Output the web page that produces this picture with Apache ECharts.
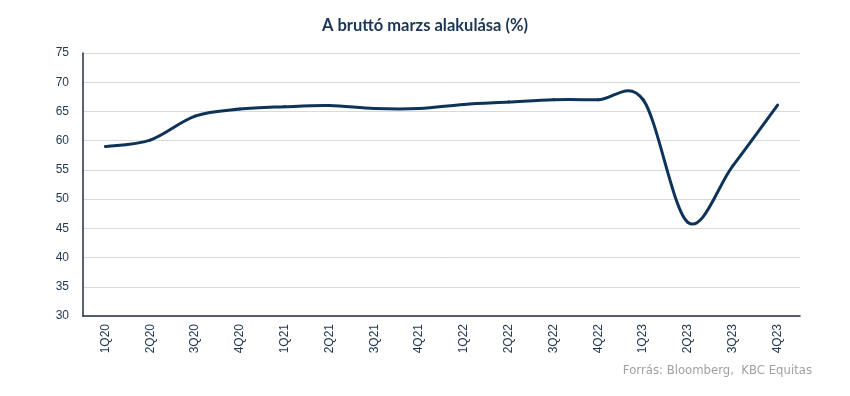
<!DOCTYPE html>
<html><head><meta charset="utf-8">
<script src="https://cdn.jsdelivr.net/npm/echarts@6/dist/echarts.min.js"></script>
<style>html,body{margin:0;padding:0;background:#fff}#c{width:850px;height:396px}</style>
</head><body><div id="c"></div>
<script>
const categories = ['1Q20','2Q20','3Q20','4Q20','1Q21','2Q21','3Q21','4Q21','1Q22','2Q22','3Q22','4Q22','1Q23','2Q23','3Q23','4Q23'];
const grossMargin = [59.0, 60.1, 64.2, 65.4, 65.8, 66.0, 65.5, 65.5, 66.2, 66.6, 67.0, 67.0, 67.0, 46.0, 55.7, 66.1];
const titleText = 'A bruttó marzs alakulása (%)';
const sourceText = 'Forrás: Bloomberg,  KBC Equitas';

// Excel-like smoothed line (Catmull-Rom style Bezier), positioned through the axes via api.coord
function renderSmoothLine(params, api) {
  if (params.dataIndex !== 0) return null;
  const pts = grossMargin.map((v, i) => api.coord([i, v]));
  const n = pts.length;
  const children = [];
  const k = 1 / 6;
  for (let i = 0; i < n - 1; i++) {
    const p0 = pts[Math.max(0, i - 1)], p1 = pts[i], p2 = pts[i + 1], p3 = pts[Math.min(n - 1, i + 2)];
    children.push({
      type: 'bezierCurve',
      shape: {
        x1: p1[0], y1: p1[1], x2: p2[0], y2: p2[1],
        cpx1: p1[0] + (p2[0] - p0[0]) * k, cpy1: p1[1] + (p2[1] - p0[1]) * k,
        cpx2: p2[0] - (p3[0] - p1[0]) * k, cpy2: p2[1] - (p3[1] - p1[1]) * k
      },
      style: { stroke: '#0d3358', lineWidth: 3, fill: null, lineCap: 'round' }
    });
  }
  return { type: 'group', children: children };
}

const chart = echarts.init(document.getElementById('c'));
chart.setOption({
  animation: false,
  title: {
    text: titleText, left: 'center', top: 12,
    textStyle: { fontFamily: 'Lato', fontWeight: 'bold', fontSize: 16.5, color: '#1b3556' }
  },
  graphic: [{
    type: 'text', right: 38, top: 365,
    style: { text: sourceText, font: '11.7px "DejaVu Sans"', fill: '#a0a0a0' }
  }],
  grid: { left: 83, right: 50, top: 53, bottom: 80 },
  xAxis: {
    type: 'category', data: categories, boundaryGap: true,
    axisLine: { show: true, lineStyle: { color: '#1b3047', width: 1.5 } },
    axisTick: { show: false },
    axisLabel: { rotate: 90, margin: 8, fontFamily: 'Liberation Sans', fontSize: 12, color: '#1f3550' }
  },
  yAxis: {
    type: 'value', min: 30, max: 75, interval: 5,
    axisLine: { show: true, lineStyle: { color: '#1b3047', width: 1.5 } },
    axisTick: { show: false },
    axisLabel: { margin: 14, fontFamily: 'Liberation Sans', fontSize: 12, color: '#1f3550' },
    splitLine: { lineStyle: { color: '#d9d9d9', width: 1 } }
  },
  series: [{
    type: 'custom',
    renderItem: renderSmoothLine,
    data: grossMargin.map((v, i) => [i, v]),
    encode: { x: 0, y: 1 }
  }]
});
</script></body></html>
